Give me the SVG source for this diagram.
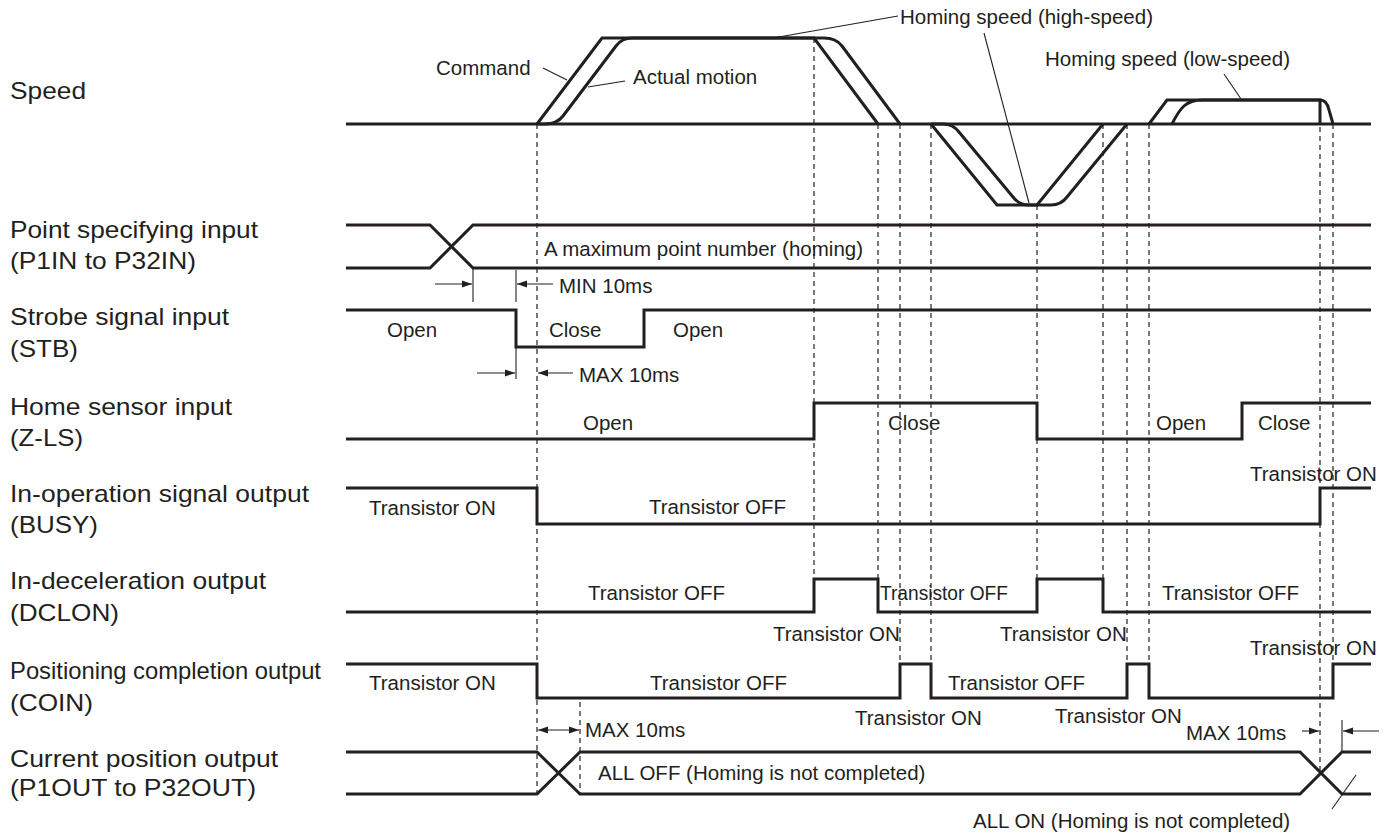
<svg xmlns="http://www.w3.org/2000/svg" width="1391" height="838" viewBox="0 0 1391 838">
<style>
text{font-family:"Liberation Sans",Arial,sans-serif;fill:#231f20}
.lab{font-size:24px}
.t{font-size:20.5px}
.sig{fill:none;stroke:#231f20;stroke-width:3;stroke-linejoin:miter}
.dash{fill:none;stroke:#231f20;stroke-width:1.2;stroke-dasharray:5 4}
.thin{fill:none;stroke:#231f20;stroke-width:1.1}
</style>
<defs>
<marker id="ah" markerUnits="userSpaceOnUse" markerWidth="10" markerHeight="8" refX="10" refY="4" orient="auto-start-reverse">
<path d="M0,0.5 L10,4 L0,7.5 z" fill="#231f20"/>
</marker>
</defs>
<rect width="1391" height="838" fill="#ffffff"/>

<g id="labels">
<text class="lab" x="10" y="99" textLength="76" lengthAdjust="spacingAndGlyphs">Speed</text>
<text class="lab" x="10" y="238" textLength="248" lengthAdjust="spacingAndGlyphs">Point specifying input</text>
<text class="lab" x="10" y="269" textLength="186" lengthAdjust="spacingAndGlyphs">(P1IN to P32IN)</text>
<text class="lab" x="10" y="325" textLength="219" lengthAdjust="spacingAndGlyphs">Strobe signal input</text>
<text class="lab" x="10" y="357" textLength="68" lengthAdjust="spacingAndGlyphs">(STB)</text>
<text class="lab" x="10" y="415" textLength="222" lengthAdjust="spacingAndGlyphs">Home sensor input</text>
<text class="lab" x="10" y="446" textLength="73" lengthAdjust="spacingAndGlyphs">(Z-LS)</text>
<text class="lab" x="10" y="502" textLength="299" lengthAdjust="spacingAndGlyphs">In-operation signal output</text>
<text class="lab" x="10" y="533" textLength="88" lengthAdjust="spacingAndGlyphs">(BUSY)</text>
<text class="lab" x="10" y="589" textLength="256" lengthAdjust="spacingAndGlyphs">In-deceleration output</text>
<text class="lab" x="10" y="621" textLength="109" lengthAdjust="spacingAndGlyphs">(DCLON)</text>
<text class="lab" x="10" y="679" textLength="311" lengthAdjust="spacingAndGlyphs">Positioning completion output</text>
<text class="lab" x="10" y="711" textLength="83" lengthAdjust="spacingAndGlyphs">(COIN)</text>
<text class="lab" x="10" y="767" textLength="268" lengthAdjust="spacingAndGlyphs">Current position output</text>
<text class="lab" x="10" y="796" textLength="246" lengthAdjust="spacingAndGlyphs">(P1OUT to P32OUT)</text>
</g>

<g id="connectors">
<!-- dashed timing lines -->
<line class="dash" x1="537" y1="124" x2="537" y2="794"/>
<line class="dash" x1="814" y1="38" x2="814" y2="612"/>
<line class="dash" x1="878" y1="124" x2="878" y2="612"/>
<line class="dash" x1="900" y1="124" x2="900" y2="698"/>
<line class="dash" x1="931" y1="124" x2="931" y2="698"/>
<line class="dash" x1="1037" y1="205" x2="1037" y2="612"/>
<line class="dash" x1="1103" y1="124" x2="1103" y2="612"/>
<line class="dash" x1="1127" y1="124" x2="1127" y2="698"/>
<line class="dash" x1="1149" y1="124" x2="1149" y2="698"/>
<line class="dash" x1="1320" y1="100" x2="1320" y2="773"/>
<line class="dash" x1="1333" y1="124" x2="1333" y2="664"/>
<line class="dash" x1="580" y1="702" x2="580" y2="794"/>
<!-- leaders -->
<line class="thin" x1="543" y1="68" x2="567" y2="80"/>
<line class="thin" x1="625" y1="81" x2="588" y2="87"/>
<line class="thin" x1="773" y1="38" x2="898" y2="16"/>
<line class="thin" x1="984" y1="33" x2="1029" y2="203"/>
<line class="thin" x1="1224" y1="74" x2="1241" y2="99"/>
<line class="thin" x1="1332" y1="809" x2="1356" y2="775"/>
<!-- timing ticks and arrows -->
<line class="thin" x1="473" y1="268" x2="473" y2="302"/>
<line class="thin" x1="516" y1="270" x2="516" y2="302"/>
<line class="thin" x1="435" y1="284" x2="472" y2="284" marker-end="url(#ah)"/>
<line class="thin" x1="553" y1="284" x2="517" y2="284" marker-end="url(#ah)"/>
<line class="thin" x1="516" y1="347" x2="516" y2="379"/>
<line class="thin" x1="477" y1="373" x2="515" y2="373" marker-end="url(#ah)"/>
<line class="thin" x1="573" y1="373" x2="538" y2="373" marker-end="url(#ah)"/>
<line class="thin" x1="538" y1="730" x2="579" y2="730" marker-start="url(#ah)" marker-end="url(#ah)"/>
<line class="thin" x1="1302" y1="731" x2="1319" y2="731" marker-end="url(#ah)"/>
<line class="thin" x1="1342" y1="720" x2="1342" y2="752"/>
<line class="thin" x1="1379" y1="731" x2="1343" y2="731" marker-end="url(#ah)"/>
</g>

<g id="speed">
<line class="sig" x1="346" y1="124" x2="1371" y2="124"/>
<path class="sig" d="M537,124 L602,38 L814,38 L878,124"/>
<path class="sig" d="M537,124 L545,124 Q557,124 563,116 L616,46 Q622,38 632,38 L824,38 Q836,38 842,46 L900,124"/>
<path class="sig" d="M931,124 L997,205 L1037,205 L1103,124"/>
<path class="sig" d="M931,124 L943,124 Q953,124 959,132 L1013,197 Q1019,205 1029,205 L1051,205 Q1061,205 1067,197 L1127,124"/>
<path class="sig" d="M1149,124 L1167,100 L1320,100 L1320,124"/>
<path class="sig" d="M1172,124 C1180,108 1186,100 1202,100 L1320,100 Q1327,100 1329,110 L1333,124"/>
<text class="t" x="436" y="75">Command</text>
<text class="t" x="633" y="84">Actual motion</text>
<text class="t" x="900" y="24">Homing speed (high-speed)</text>
<text class="t" x="1045" y="66">Homing speed (low-speed)</text>
</g>

<g id="point-input">
<path class="sig" d="M346,225 L430,225 L473,268 L1371,268"/>
<path class="sig" d="M346,268 L430,268 L473,225 L1371,225"/>
<text class="t" x="544" y="256">A maximum point number (homing)</text>
<text class="t" x="559" y="293">MIN 10ms</text>
</g>

<g id="strobe">
<path class="sig" d="M346,310 L516,310 L516,347 L644,347 L644,310 L1371,310"/>
<text class="t" x="387" y="337">Open</text>
<text class="t" x="549" y="337">Close</text>
<text class="t" x="673" y="337">Open</text>
<text class="t" x="579" y="382">MAX 10ms</text>
</g>

<g id="home-sensor">
<path class="sig" d="M346,439 L814,439 L814,403 L1037,403 L1037,439 L1242,439 L1242,403 L1371,403"/>
<text class="t" x="583" y="430">Open</text>
<text class="t" x="888" y="430">Close</text>
<text class="t" x="1156" y="430">Open</text>
<text class="t" x="1258" y="430">Close</text>
</g>

<g id="busy">
<path class="sig" d="M346,488 L537,488 L537,524 L1320,524 L1320,488 L1371,488"/>
<text class="t" x="369" y="515">Transistor ON</text>
<text class="t" x="649" y="514">Transistor OFF</text>
<text class="t" x="1250" y="481">Transistor ON</text>
</g>

<g id="dclon">
<path class="sig" d="M346,612 L814,612 L814,579 L878,579 L878,612 L1037,612 L1037,579 L1103,579 L1103,612 L1371,612"/>
<text class="t" x="588" y="600">Transistor OFF</text>
<text class="t" x="880" y="600" textLength="128" lengthAdjust="spacingAndGlyphs">Transistor OFF</text>
<text class="t" x="1162" y="600">Transistor OFF</text>
<text class="t" x="773" y="641">Transistor ON</text>
<text class="t" x="1000" y="641">Transistor ON</text>
<text class="t" x="1250" y="655">Transistor ON</text>
</g>

<g id="coin">
<path class="sig" d="M346,664 L537,664 L537,698 L900,698 L900,664 L931,664 L931,698 L1127,698 L1127,664 L1149,664 L1149,698 L1333,698 L1333,664 L1371,664"/>
<text class="t" x="369" y="690">Transistor ON</text>
<text class="t" x="650" y="690">Transistor OFF</text>
<text class="t" x="948" y="690">Transistor OFF</text>
<text class="t" x="855" y="725">Transistor ON</text>
<text class="t" x="1055" y="723">Transistor ON</text>
<text class="t" x="585" y="737">MAX 10ms</text>
<text class="t" x="1186" y="740">MAX 10ms</text>
</g>

<g id="current-position">
<path class="sig" d="M346,752 L537,752 L580,794 L1300,794 L1342,752 L1371,752"/>
<path class="sig" d="M346,794 L537,794 L580,752 L1300,752 L1342,794 L1371,794"/>
<text class="t" x="598" y="780">ALL OFF (Homing is not completed)</text>
<text class="t" x="973" y="828">ALL ON (Homing is not completed)</text>
</g>
</svg>
